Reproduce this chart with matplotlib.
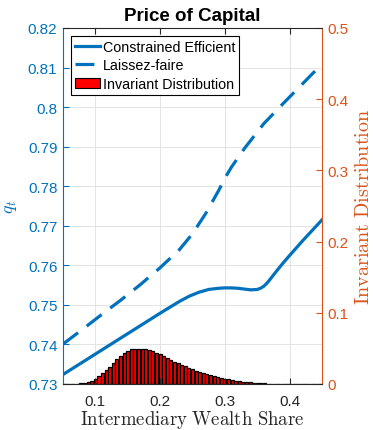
import numpy as np
import matplotlib.pyplot as plt
from matplotlib.lines import Line2D
from matplotlib.patches import Patch

plt.rcParams['font.family'] = ['Liberation Sans', 'DejaVu Sans']
plt.rcParams['mathtext.fontset'] = 'cm'

blue = '#0072BD'
orange = '#D95319'
dark = '#262626'
grid_c = '#e3e3e3'

# price of capital, constrained efficient
ce_x = [0.05, 0.08, 0.11, 0.14, 0.17, 0.20, 0.215, 0.23, 0.245, 0.26, 0.275,
        0.29, 0.30, 0.31, 0.32, 0.33, 0.34, 0.35, 0.355, 0.36, 0.365, 0.37,
        0.38, 0.39, 0.40, 0.42, 0.45]
ce_y = [0.7324, 0.7355, 0.7386, 0.7417, 0.7448, 0.7479, 0.7494, 0.7509, 0.7522,
        0.7532, 0.7539, 0.7542, 0.7543, 0.7543, 0.7542, 0.7540, 0.7538, 0.7539,
        0.7542, 0.7547, 0.7555, 0.7565, 0.7586, 0.7606, 0.7625, 0.7662, 0.7715]

# price of capital, laissez-faire
lf_x = [0.05, 0.08, 0.11, 0.14, 0.17, 0.20, 0.23, 0.25, 0.27, 0.29, 0.30,
        0.31, 0.33, 0.36, 0.39, 0.42, 0.45]
lf_y = [0.7401, 0.7438, 0.7476, 0.7513, 0.7552, 0.7594, 0.7640, 0.7680, 0.7730,
        0.7788, 0.7820, 0.7848, 0.7895, 0.7958, 0.8009, 0.8059, 0.8109]

# invariant distribution of intermediary wealth share
dist = [0.0000, 0.0000, 0.0002, 0.0003, 0.0005, 0.0009, 0.0015, 0.0025, 0.0045, 0.0075,
        0.0110, 0.0150, 0.0192, 0.0240, 0.0295, 0.0345, 0.0398, 0.0438, 0.0465, 0.0485,
        0.0495, 0.0498, 0.0495, 0.0490, 0.0475, 0.0458, 0.0440, 0.0420, 0.0395, 0.0368,
        0.0342, 0.0315, 0.0292, 0.0268, 0.0248, 0.0228, 0.0205, 0.0186, 0.0169, 0.0152,
        0.0138, 0.0126, 0.0110, 0.0100, 0.0088, 0.0075, 0.0065, 0.0055, 0.0047, 0.0039,
        0.0032, 0.0027, 0.0023, 0.0018, 0.0014, 0.0011, 0.0009, 0.0007, 0.0005, 0.0004,
        0.0003, 0.0003, 0.0002, 0.0002, 0.0001, 0.0001, 0.0001, 0.0001, 0.0, 0.0,
        0.0, 0.0, 0.0]
dist_x = np.linspace(0.05, 0.45, len(dist))

x_ticks = [0.1, 0.2, 0.3, 0.4]
q_ticks = [0.73, 0.74, 0.75, 0.76, 0.77, 0.78, 0.79, 0.80, 0.81, 0.82]
d_ticks = [0, 0.1, 0.2, 0.3, 0.4, 0.5]

fig = plt.figure(figsize=(3.73, 4.31), dpi=100)
ax = fig.add_axes([63 / 373, 46 / 431, 259 / 373, 356 / 431])
axr = ax.twinx()
ax.set_zorder(axr.get_zorder() + 1)
ax.patch.set_visible(False)

# histogram on the right axis
step = dist_x[1] - dist_x[0]
axr.bar(dist_x, dist, width=0.85 * step, color='red', edgecolor='black', linewidth=0.9)
axr.set_ylim(0, 0.5)
axr.set_yticks(d_ticks)
axr.set_yticklabels([f'{v:g}' for v in d_ticks])
axr.xaxis.set_visible(True)
axr.tick_params(axis='x', bottom=False, top=False, labelbottom=False)
axr.xaxis.grid(True, color=grid_c, lw=0.7)
axr.set_axisbelow(True)
axr.tick_params(axis='y', colors=orange, direction='in', length=4, labelsize=11, pad=4)
axr.set_ylabel(r'$\mathrm{Invariant\ Distribution}$', color=orange, fontsize=14.5,
               rotation=90, labelpad=4)

# price lines on the left axis
ax.plot(ce_x, ce_y, color=blue, lw=2.3)
ax.plot(lf_x, lf_y, color=blue, lw=2.3, dashes=(5.9, 3.4))
ax.set_xlim(0.05, 0.45)
ax.set_ylim(0.73, 0.82)
ax.set_xticks(x_ticks)
ax.set_xticklabels([f'{v:g}' for v in x_ticks])
ax.set_yticks(q_ticks)
ax.set_yticklabels([f'{v:g}' for v in q_ticks])
ax.yaxis.grid(True, color=grid_c, lw=0.7)
ax.set_axisbelow(True)
ax.tick_params(axis='y', colors=blue, direction='in', length=4, labelsize=11, pad=4)
ax.tick_params(axis='x', colors=dark, direction='in', length=4, top=True,
               labelsize=11, pad=7)
ax.set_ylabel(r'$q_t$', color=blue, fontsize=13, labelpad=6)
ax.set_xlabel(r'$\mathrm{Intermediary\ Wealth\ Share}$', color=dark, fontsize=13.5,
              labelpad=0.5)
ax.set_title('Price of Capital', fontsize=13.5, fontweight='bold', pad=6)

for a in (ax, axr):
    a.spines['top'].set_color(dark)
    a.spines['bottom'].set_color(dark)
ax.spines['left'].set_color(blue)
ax.spines['right'].set_visible(False)
axr.spines['left'].set_visible(False)
axr.spines['right'].set_color(orange)
axr.spines['top'].set_visible(False)
axr.spines['bottom'].set_visible(False)

handles = [Line2D([], [], color=blue, lw=2.3),
           Line2D([], [], color=blue, lw=2.3, dashes=(5.9, 3.4)),
           Patch(facecolor='red', edgecolor='black', linewidth=0.8)]
labels = ['Constrained Efficient', 'Laissez-faire', 'Invariant Distribution']
leg = ax.legend(handles, labels, loc='upper left', bbox_to_anchor=(0.031, 0.978),
                fontsize=10.3, fancybox=False, edgecolor='black', framealpha=1,
                borderaxespad=0, handlelength=1.75, handletextpad=0.15,
                labelspacing=0.3, borderpad=0.3)
leg.get_frame().set_linewidth(0.8)

fig.savefig('out.png', dpi=100)
